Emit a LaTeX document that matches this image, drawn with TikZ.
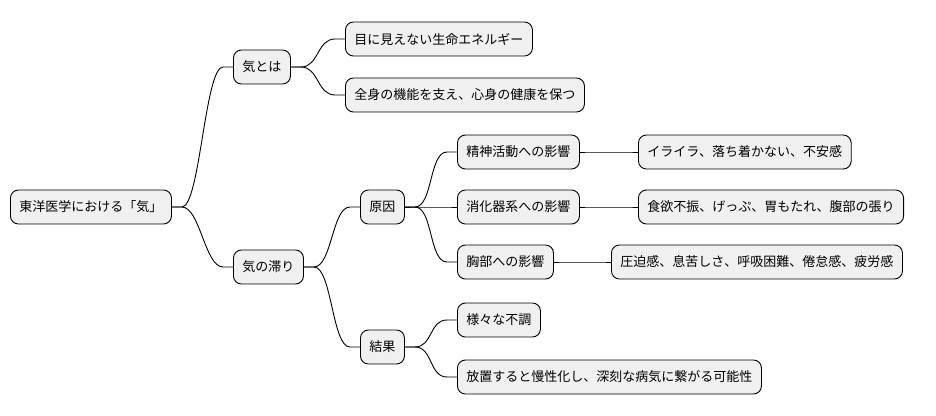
\documentclass[tikz,border=0pt]{standalone}
\usepackage{fontspec}
\setmainfont{Noto Sans CJK JP}
\begin{document}
\begin{tikzpicture}[x=1pt,y=-1pt,
  box/.style={draw=black,line width=0.9pt,fill=black!6,rounded corners=8pt,minimum height=34pt,inner xsep=9pt,anchor=west,font=\fontsize{13}{15}\selectfont},
  con/.style={draw=black,line width=0.9pt}]
\useasboundingbox (0,0) rectangle (936,415);
\node[box] (root) at (10,207) {東洋医学における「気」};
\node[box] (a) at (233,67) {気とは};
\node[box] (a1) at (345,39) {目に見えない生命エネルギー};
\node[box] (a2) at (345,95) {全身の機能を支え、心身の健康を保つ};
\node[box] (b) at (233,267) {気の滞り};
\node[box] (c) at (360,207) {原因};
\node[box] (c1) at (457,152) {精神活動への影響};
\node[box] (c1a) at (638,152) {イライラ、落ち着かない、不安感};
\node[box] (c2) at (457,207) {消化器系への影響};
\node[box] (c2a) at (638,207) {食欲不振、げっぷ、胃もたれ、腹部の張り};
\node[box] (c3) at (457,262) {胸部への影響};
\node[box] (c3a) at (611,262) {圧迫感、息苦しさ、呼吸困難、倦怠感、疲労感};
\node[box] (d) at (360,347) {結果};
\node[box] (d1) at (457,320) {様々な不調};
\node[box] (d2) at (457,377) {放置すると慢性化し、深刻な病気に繋がる可能性};
\foreach \p/\c in {root/a,root/b,a/a1,a/a2,b/c,b/d,c/c1,c/c2,c/c3,c1/c1a,c2/c2a,c3/c3a,d/d1,d/d2}
  \draw[con] (\p.east) -- ++(10,0) .. controls +(18,0) and +(-18,0) .. ([xshift=-10pt]\c.west) -- (\c.west);
\end{tikzpicture}
\end{document}
